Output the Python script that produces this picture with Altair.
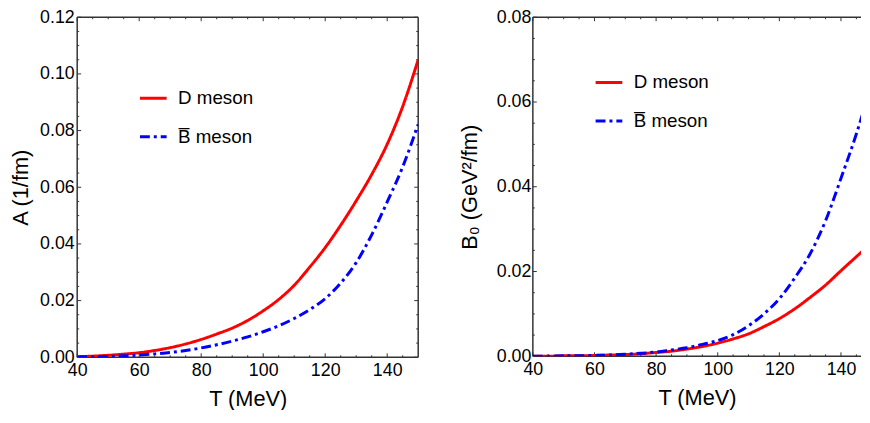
import altair as alt
import pandas as pd

# ---------------- data ----------------
T = [40, 45, 50, 55, 60, 65, 70, 75, 80, 85, 90, 95, 100, 105, 110, 115, 120,
     125, 130, 135, 140, 145, 150]

A_D = [0.0002, 0.0004, 0.0007, 0.0011, 0.0016, 0.0024, 0.0034, 0.0047, 0.0063,
       0.0082, 0.0103, 0.0130, 0.0164, 0.0204, 0.0254, 0.0318, 0.0387, 0.0466,
       0.0552, 0.0645, 0.0752, 0.0885, 0.1050]
A_B = [0.0001, 0.0002, 0.0003, 0.0005, 0.0008, 0.0012, 0.0017, 0.0024, 0.0033,
       0.0044, 0.0057, 0.0072, 0.0090, 0.0111, 0.0137, 0.0168, 0.0207, 0.0262,
       0.0334, 0.0432, 0.0548, 0.0672, 0.0822]

B0_D = [0.0000, 0.0000, 0.0001, 0.0001, 0.0002, 0.0003, 0.0004, 0.0006, 0.0009,
        0.0012, 0.0017, 0.0023, 0.0031, 0.0041, 0.0053, 0.0070, 0.0089, 0.0112,
        0.0139, 0.0168, 0.0202, 0.0235, 0.0268]
B0_B = [0.0000, 0.0000, 0.0001, 0.0001, 0.0002, 0.0003, 0.0005, 0.0007, 0.0010,
        0.0015, 0.0020, 0.0028, 0.0037, 0.0051, 0.0072, 0.0100, 0.0136, 0.0185,
        0.0242, 0.0320, 0.0420, 0.0525, 0.0645]

SERIES = ["D meson", "B\u0305 meson"]
COLORS = ["#ff0000", "#0000ff"]
DASHES = [[1, 0], [10, 4, 3, 4]]

X_MAJOR = [40, 60, 80, 100, 120, 140]
X_MINOR = [45, 50, 55, 65, 70, 75, 85, 90, 95, 105, 110, 115, 125, 130, 135, 145]
YA_MAJOR = [0.00, 0.02, 0.04, 0.06, 0.08, 0.10, 0.12]
YA_MINOR = [0.005, 0.01, 0.015, 0.025, 0.03, 0.035, 0.045, 0.05, 0.055, 0.065,
            0.07, 0.075, 0.085, 0.09, 0.095, 0.105, 0.11, 0.115]
YB_MAJOR = [0.00, 0.02, 0.04, 0.06, 0.08]
YB_MINOR = [0.005, 0.01, 0.015, 0.025, 0.03, 0.035, 0.045, 0.05, 0.055, 0.065,
            0.07, 0.075]

# x range shown (the right panel runs past the window edge in the original)
XDOM_LEFT = [40, 150]
XDOM_RIGHT = [40, 146.5]

FONT = "Liberation Sans"
FRAME = "#333333"
LABEL_SIZE = 18
LEGEND_SIZE = 19
TITLE_SIZE = 22


def panel(yvals_d, yvals_b, xdom, ydom, ytitle, ymajor, yminor, W, H, lx, ly,
          ylabpad, ytitlepad, right_side):
    df = pd.DataFrame({
        "T": T * 2,
        "v": list(yvals_d) + list(yvals_b),
        "meson": [SERIES[0]] * len(T) + [SERIES[1]] * len(T),
        "order": list(range(len(T))) * 2,
    })
    xs = alt.Scale(domain=xdom, nice=False, zero=False)
    ys = alt.Scale(domain=ydom, nice=False, zero=False)
    leg = alt.Legend(
        title=None, orient="none", legendX=lx, legendY=ly,
        symbolType="stroke", symbolSize=729, symbolStrokeWidth=3,
        labelFont=FONT, labelFontSize=LEGEND_SIZE, labelColor="black",
        labelOffset=10, rowPadding=14, padding=0,
    )
    lines = alt.Chart(df).mark_line(strokeWidth=3, clip=True,
                                    interpolate="monotone").encode(
        x=alt.X("T:Q", scale=xs,
                axis=alt.Axis(values=X_MAJOR, title="T (MeV)", format="d",
                              ticks=False, domain=False, grid=False,
                              labelFont=FONT, labelFontSize=LABEL_SIZE,
                              labelColor="black", labelPadding=4,
                              titleFont=FONT, titleFontSize=TITLE_SIZE,
                              titleFontWeight="normal", titleColor="black",
                              titlePadding=10, labelFlush=False)),
        y=alt.Y("v:Q", scale=ys,
                axis=alt.Axis(values=ymajor, title=ytitle, format=".2f",
                              ticks=False, domain=False, grid=False,
                              labelFont=FONT, labelFontSize=LABEL_SIZE,
                              labelColor="black", labelPadding=ylabpad,
                              minExtent=40, maxExtent=40,
                              titleFont=FONT, titleFontSize=TITLE_SIZE,
                              titleFontWeight="normal", titleColor="black",
                              titlePadding=ytitlepad, labelFlush=False)),
        color=alt.Color("meson:N", scale=alt.Scale(domain=SERIES, range=COLORS),
                        legend=leg),
        strokeDash=alt.StrokeDash("meson:N",
                                  scale=alt.Scale(domain=SERIES, range=DASHES),
                                  legend=leg),
        order="order:Q",
    )

    def xticks(vals, length):
        d = pd.DataFrame({"t": vals})
        base = alt.Chart(d).mark_rule(color=FRAME, strokeWidth=1)
        bot = base.encode(x=alt.X("t:Q", scale=xs), y=alt.value(H), y2=alt.value(H - length))
        top = base.encode(x=alt.X("t:Q", scale=xs), y=alt.value(0), y2=alt.value(length))
        return [bot, top]

    def yticks(vals, length):
        d = pd.DataFrame({"t": vals})
        base = alt.Chart(d).mark_rule(color=FRAME, strokeWidth=1)
        out = [base.encode(y=alt.Y("t:Q", scale=ys), x=alt.value(0), x2=alt.value(length))]
        if right_side:
            out.append(base.encode(y=alt.Y("t:Q", scale=ys), x=alt.value(W),
                                   x2=alt.value(W - length)))
        return out

    fr = alt.Chart(pd.DataFrame({"k": [0]})).mark_rule(color=FRAME, strokeWidth=1.5)
    frame = [
        fr.encode(x=alt.value(0), x2=alt.value(W), y=alt.value(0)),
        fr.encode(x=alt.value(0), x2=alt.value(W), y=alt.value(H)),
        fr.encode(x=alt.value(0), y=alt.value(0), y2=alt.value(H)),
    ]
    if right_side:
        frame.append(fr.encode(x=alt.value(W), y=alt.value(0), y2=alt.value(H)))

    layers = (xticks(X_MAJOR, 4) + xticks(X_MINOR, 2)
              + yticks(ymajor, 4) + yticks(yminor, 2) + frame + [lines])
    return alt.layer(*layers).properties(width=W, height=H)


left = panel(A_D, A_B, XDOM_LEFT, [0, 0.12], "A (1/fm)", YA_MAJOR, YA_MINOR,
             345, 344, 62, 67, 3, 5, True)
right = panel(B0_D, B0_B, XDOM_RIGHT, [0, 0.08], "B\u2080 (GeV\u00b2/fm)",
              YB_MAJOR, YB_MINOR, 332, 343, 62, 51, 2, 12, False)

chart = alt.hconcat(left, right, spacing=40).resolve_scale(
    color="independent", strokeDash="independent", x="independent", y="independent"
).resolve_legend(color="independent", strokeDash="independent").properties(
    padding={"left": 2, "top": -2, "right": 0, "bottom": -2}
).configure_view(
    stroke=None
)

chart.save("out.html", embed_options={"renderer": "svg", "actions": False})
